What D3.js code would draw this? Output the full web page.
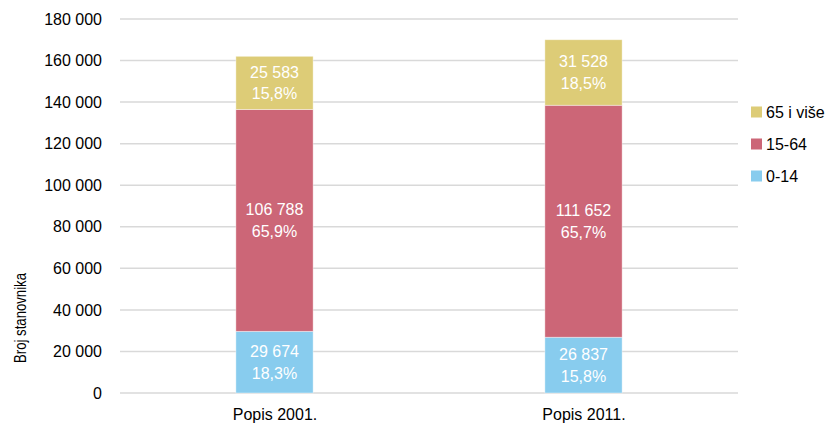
<!DOCTYPE html>
<html>
<head>
<meta charset="utf-8">
<script src="https://cdn.jsdelivr.net/npm/d3@7"></script>
<style>
    body { margin: 0; background: #fff; }
    text { font-family: "Liberation Sans", Arial, sans-serif; }
</style>
</head>
<body>
<svg id="chart" width="828" height="430"></svg>
<script>
const categories = ["Popis 2001.", "Popis 2011."];
const groups = ["0-14", "15-64", "65 i više"];
const values_0_14 = [29674, 26837];
const values_15_64 = [106788, 111652];
const values_65 = [25583, 31528];
const pct_0_14 = [18.3, 15.8];
const pct_15_64 = [65.9, 65.7];
const pct_65 = [15.8, 18.5];
const yTicks = [0, 20000, 40000, 60000, 80000, 100000, 120000, 140000, 160000, 180000];
const colors = ["#88CCEE", "#CC6677", "#DDCC77"];

(function (d3) {
    'use strict';

    const svg = d3.select("#chart");
    const left = 120, right = 738, top = 19, bottom = 393;

    const locale = d3.formatLocale({decimal: ",", thousands: " ", grouping: [3], currency: ["", ""]});
    const fmtNum = locale.format(",d");
    const fmtPct = locale.format(".1f");

    // build rows for the stack from the small arrays
    const rows = categories.map((c, i) => ({
        cat: c,
        "0-14": values_0_14[i],
        "15-64": values_15_64[i],
        "65 i više": values_65[i]
    }));
    const pcts = [pct_0_14, pct_15_64, pct_65];

    const x = d3.scalePoint().domain(categories).range([left, right]).padding(0.5);
    const barW = x.step() * 0.25;
    const y = d3.scaleLinear().domain([0, 180000]).range([bottom, top]);

    // grid lines
    svg.append("g")
        .selectAll("line")
        .data(yTicks)
        .enter()
        .append("line")
        .attr("x1", left).attr("x2", right)
        .attr("y1", d => y(d)).attr("y2", d => y(d))
        .style("stroke", "#d9d9d9")
        .style("stroke-width", 1.5);

    // y axis labels
    const yAxis = d3.axisLeft(y).tickValues(yTicks).tickFormat(fmtNum).tickSize(0).tickPadding(18);
    const ya = svg.append("g").attr("transform", `translate(${left},0)`).call(yAxis);
    ya.select(".domain").remove();
    ya.selectAll("text").style("font-size", "16px").style("fill", "#000")
        .style("font-family", "'Liberation Sans', Arial, sans-serif");

    // x axis labels
    const xAxis = d3.axisBottom(x).tickSize(0).tickPadding(16);
    const xa = svg.append("g").attr("transform", `translate(0,${bottom})`).call(xAxis);
    xa.select(".domain").remove();
    xa.selectAll("text").style("font-size", "16px").style("fill", "#000")
        .style("font-family", "'Liberation Sans', Arial, sans-serif");

    const stack = d3.stack().keys(groups)(rows);

    const layer = svg.append("g")
        .selectAll("g")
        .data(stack)
        .enter()
        .append("g")
        .style("fill", (d, i) => colors[i]);

    layer.selectAll("rect")
        .data(d => d)
        .enter()
        .append("rect")
        .attr("x", d => x(d.data.cat) - barW / 2)
        .attr("width", barW)
        .attr("y", d => y(d[1]))
        .attr("height", d => y(d[0]) - y(d[1]))
        .style("stroke", "#fff")
        .style("stroke-opacity", 0.5)
        .style("stroke-width", 0.8);

    // labels inside segments
    stack.forEach((s, k) => {
        s.forEach((d, i) => {
            const cx = x(d.data.cat);
            const cy = (y(d[0]) + y(d[1])) / 2;
            const t = svg.append("text")
                .attr("text-anchor", "middle")
                .style("fill", "#fff")
                .style("font-size", "16px");
            t.append("tspan").attr("x", cx).attr("y", cy - 5).text(fmtNum(d.data[s.key]));
            t.append("tspan").attr("x", cx).attr("y", cy + 16.5).text(fmtPct(pcts[k][i]) + "%");
        });
    });

    // y axis title
    svg.append("text")
        .attr("transform", "translate(26,318) rotate(-90)")
        .attr("text-anchor", "middle")
        .attr("textLength", 90)
        .attr("lengthAdjust", "spacingAndGlyphs")
        .style("font-size", "16px")
        .text("Broj stanovnika");

    // legend
    const legend = svg.append("g")
        .selectAll("g")
        .data(groups.slice().reverse())
        .enter()
        .append("g")
        .attr("transform", (d, i) => `translate(751,${112 + i * 32})`);

    legend.append("rect")
        .attr("x", 0).attr("y", -5.5)
        .attr("width", 11).attr("height", 11)
        .style("fill", d => colors[groups.indexOf(d)]);

    legend.append("text")
        .attr("x", 15).attr("y", 6)
        .style("font-size", "16px")
        .text(d => d);

}(d3));
</script>
</body>
</html>
